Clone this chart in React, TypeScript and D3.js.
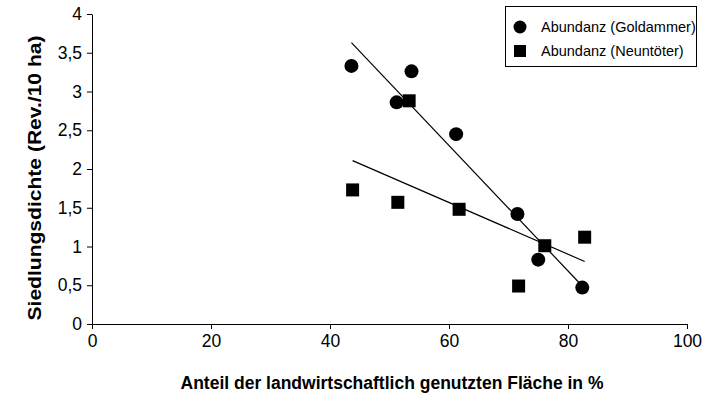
import React, { useEffect, useRef } from "react";
import * as d3 from "d3";

const goldX = [43.6, 53.7, 51.2, 61.2, 71.5, 75.0, 82.4];
const goldY = [3.33, 3.26, 2.86, 2.45, 1.42, 0.83, 0.47];
const neunX = [43.8, 51.4, 53.3, 61.7, 71.7, 76.1, 82.8];
const neunY = [1.73, 1.57, 2.88, 1.48, 0.49, 1.01, 1.12];
const xTicks = [0, 20, 40, 60, 80, 100];
const yTicks = [0, 0.5, 1, 1.5, 2, 2.5, 3, 3.5, 4];
const seriesNames = ["Abundanz (Goldammer)", "Abundanz (Neuntöter)"];

// least-squares line over the x range of the points
function fit(xs: number[], ys: number[]) {
  const mx = d3.mean(xs)!;
  const my = d3.mean(ys)!;
  let sxy = 0, sxx = 0;
  xs.forEach((x, i) => { sxy += (x - mx) * (ys[i] - my); sxx += (x - mx) * (x - mx); });
  const b = sxy / sxx;
  const a = my - b * mx;
  const x0 = d3.min(xs)!, x1 = d3.max(xs)!;
  return [[x0, a + b * x0], [x1, a + b * x1]];
}

export default function App() {
  const ref = useRef<SVGSVGElement>(null);

  useEffect(() => {
    const svg = d3.select(ref.current);
    svg.selectAll("*").remove();
    const font = "Liberation Sans, Arial, sans-serif";

    const x = d3.scaleLinear().domain([0, 100]).range([92, 687]);
    const y = d3.scaleLinear().domain([0, 4]).range([324, 14]);

    svg.append("g")
      .attr("transform", `translate(0,${y(0)})`)
      .call(d3.axisBottom(x).tickValues(xTicks).tickSize(5).tickSizeOuter(0).tickPadding(6))
      .call(g => g.select(".domain").attr("stroke", "#000"))
      .selectAll("text").attr("font-size", 17.5).attr("font-family", font).attr("fill", "#000");

    svg.append("g")
      .attr("transform", `translate(${x(0)},0)`)
      .call(d3.axisLeft(y).tickValues(yTicks).tickSize(5).tickSizeOuter(0).tickPadding(5)
        .tickFormat(d => String(d).replace(".", ",")))
      .call(g => g.select(".domain").attr("stroke", "#000"))
      .selectAll("text").attr("font-size", 17.5).attr("font-family", font).attr("fill", "#000");

    const line = d3.line<number[]>().x(d => x(d[0])).y(d => y(d[1]));
    [fit(goldX, goldY), fit(neunX, neunY)].forEach(seg => {
      svg.append("path").attr("d", line(seg)).attr("stroke", "#000").attr("stroke-width", 1.2).attr("fill", "none");
    });

    svg.append("g").selectAll("circle").data(goldX).enter().append("circle")
      .attr("cx", d => x(d)).attr("cy", (d, i) => y(goldY[i])).attr("r", 7).attr("fill", "#000");

    svg.append("g").selectAll("rect").data(neunX).enter().append("rect")
      .attr("x", d => x(d) - 6.5).attr("y", (d, i) => y(neunY[i]) - 6.5)
      .attr("width", 13).attr("height", 13).attr("fill", "#000");

    svg.append("text")
      .attr("transform", "translate(41,178) rotate(-90)")
      .attr("text-anchor", "middle")
      .attr("font-family", font).attr("font-weight", "bold").attr("font-size", 18)
      .attr("textLength", 285).attr("lengthAdjust", "spacingAndGlyphs")
      .text("Siedlungsdichte (Rev./10 ha)");

    svg.append("text")
      .attr("x", 392).attr("y", 389)
      .attr("text-anchor", "middle")
      .attr("font-family", font).attr("font-weight", "bold").attr("font-size", 17.5)
      .text("Anteil der landwirtschaftlich genutzten Fläche in %");

    const lg = svg.append("g");
    lg.append("rect").attr("x", 505.5).attr("y", 6.5).attr("width", 191).attr("height", 60)
      .attr("fill", "#fff").attr("stroke", "#000");
    lg.append("circle").attr("cx", 520).attr("cy", 27).attr("r", 6.5).attr("fill", "#000");
    lg.append("rect").attr("x", 514).attr("y", 45).attr("width", 12).attr("height", 12).attr("fill", "#000");
    seriesNames.forEach((name, i) => {
      lg.append("text").attr("x", 541).attr("y", 27 + i * 24).attr("dy", "0.35em")
        .attr("font-family", font).attr("font-size", 14.5).text(name);
    });
  }, []);

  return (
    <svg ref={ref} width={709} height={395} style={{ position: "absolute", left: 0, top: 0, background: "#fff" }} />
  );
}
